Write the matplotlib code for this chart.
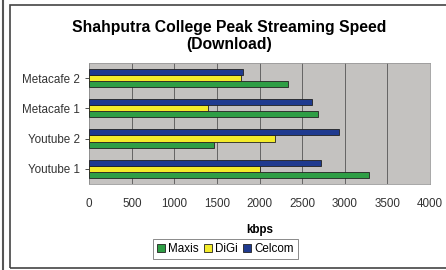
import numpy as np
import matplotlib.pyplot as plt
from matplotlib.lines import Line2D
from matplotlib.patches import Rectangle

plt.rcParams['font.family'] = ['Liberation Sans', 'DejaVu Sans']

categories = ['Youtube 1', 'Youtube 2', 'Metacafe 1', 'Metacafe 2']
series = ['Maxis', 'DiGi', 'Celcom']
maxis = [3290, 1460, 2690, 2330]
digi = [2000, 2180, 1400, 1780]
celcom = [2720, 2930, 2610, 1800]
colors = ['#2f9e45', '#f4ec2a', '#1f3a8f']

fig = plt.figure(figsize=(4.46, 2.70), dpi=100)
ax = fig.add_axes([0.200, 0.319, 0.764, 0.448])
ax.set_facecolor('#c4c2c0')

y = np.arange(len(categories))
h = 0.2
for i, (vals, c, name) in enumerate(zip([maxis, digi, celcom], colors, series)):
    ax.barh(y + (i - 1) * h, vals, height=h, color=c, edgecolor='#222222',
            linewidth=0.6, label=name, zorder=3)

ax.set_xlim(0, 4000)
ax.set_ylim(-0.5, 3.5)
ax.set_xticks(np.arange(0, 4001, 500))
ax.set_yticks(y)
ax.set_yticklabels(categories)
ax.tick_params(labelsize=8.4, colors='#333333', length=3, width=0.6)
ax.tick_params(axis='x', length=0, pad=10)
ax.grid(axis='x', color='#555555', linewidth=0.6, zorder=1)
for s in ax.spines.values():
    s.set_color('#999999')
    s.set_linewidth(0.6)

ax.set_xlabel('kbps', fontsize=8.4, fontweight='bold', labelpad=10)
fig.text(0.514, 0.867, 'Shahputra College Peak Streaming Speed\n(Download)',
         ha='center', va='center', fontsize=11.3, fontweight='bold',
         linespacing=1.15)

leg = fig.legend(loc='center', bbox_to_anchor=(0.505, 0.078), ncol=3, fontsize=8.4,
                 frameon=True, fancybox=False, handlelength=0.7, handleheight=0.7,
                 handletextpad=0.3, columnspacing=0.4, borderpad=0.35)
leg.get_frame().set_edgecolor('#555555')
leg.get_frame().set_linewidth(0.6)

# outer chart frame and left edge line
fig.add_artist(Rectangle((10 / 446, 1 - 268 / 270), 1.0, (268 - 5) / 270,
                         transform=fig.transFigure, fill=False,
                         edgecolor='#444444', linewidth=1.2))
fig.add_artist(Line2D([2.5 / 446, 2.5 / 446], [0, 1], transform=fig.transFigure,
                      color='#555555', linewidth=1.5))

fig.savefig('out.png', dpi=100)
